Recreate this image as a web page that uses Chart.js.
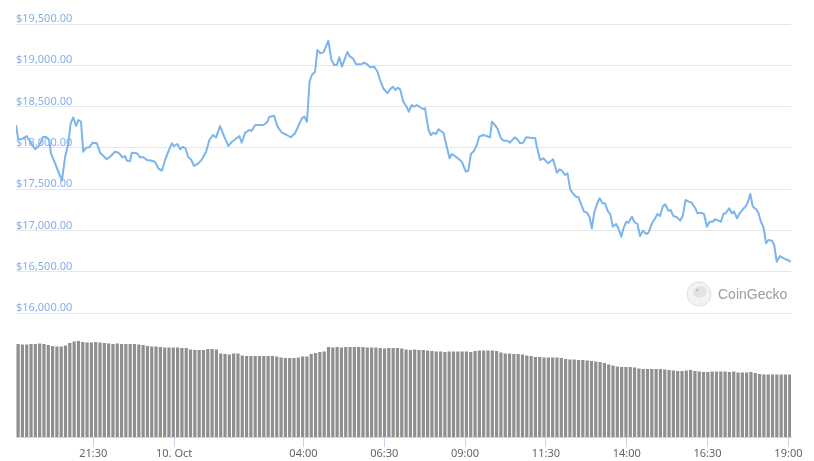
<!DOCTYPE html>
<html>
<head>
<meta charset="utf-8">
<style>
  html, body { margin: 0; padding: 0; background: #fff; }
  canvas { display: block; }
</style>
<script src="https://cdn.jsdelivr.net/npm/chart.js@4.4.1/dist/chart.umd.min.js"></script>
</head>
<body>
<canvas id="chart" width="814" height="461"></canvas>
<script>
// times are hours relative to 10 Oct 00:00
var priceTimes = [
  -4.89, -4.82, -4.71, -4.56, -4.45, -4.30, -4.20, -4.04, -3.94, -3.86,
  -3.81, -3.68, -3.47, -3.37, -3.27, -3.20, -3.12, -3.03, -2.96, -2.88,
  -2.81, -2.72, -2.62, -2.52, -2.39, -2.29, -2.08, -1.98, -1.83, -1.72,
  -1.59, -1.52, -1.46, -1.36, -1.31, -1.15, -1.05, -0.95, -0.84, -0.69,
  -0.59, -0.49, -0.38, -0.28, -0.18, -0.07, 0.00, 0.10, 0.19, 0.27,
  0.35, 0.44, 0.52, 0.62, 0.75, 0.86, 0.99, 1.09, 1.20, 1.30,
  1.42, 1.55, 1.68, 1.79, 1.89, 2.02, 2.09, 2.20, 2.33, 2.40,
  2.51, 2.76, 2.87, 2.95, 3.09, 3.20, 3.33, 3.49, 3.61, 3.74,
  3.95, 4.03, 4.11, 4.19, 4.26, 4.36, 4.43, 4.52, 4.62, 4.77,
  4.86, 4.95, 5.03, 5.11, 5.19, 5.36, 5.44, 5.53, 5.63, 5.81,
  5.88, 5.98, 6.06, 6.19, 6.29, 6.37, 6.47, 6.60, 6.68, 6.77,
  6.84, 6.91, 6.99, 7.09, 7.20, 7.26, 7.35, 7.42, 7.51, 7.61,
  7.69, 7.76, 7.87, 7.94, 8.02, 8.10, 8.18, 8.33, 8.52, 8.59,
  8.74, 8.90, 9.02, 9.10, 9.18, 9.28, 9.36, 9.44, 9.55, 9.67,
  9.77, 9.83, 9.90, 10.00, 10.11, 10.19, 10.31, 10.39, 10.53, 10.62,
  10.70, 10.79, 10.89, 11.01, 11.17, 11.22, 11.32, 11.42, 11.57, 11.72,
  11.84, 11.92, 11.99, 12.09, 12.17, 12.25, 12.35, 12.43, 12.51, 12.61,
  12.68, 12.77, 12.85, 12.92, 12.99, 13.08, 13.16, 13.25, 13.33, 13.42,
  13.49, 13.57, 13.67, 13.74, 13.83, 13.90, 13.98, 14.05, 14.16, 14.23,
  14.33, 14.41, 14.50, 14.60, 14.67, 14.78, 14.88, 14.95, 15.03, 15.12,
  15.19, 15.29, 15.36, 15.44, 15.55, 15.65, 15.73, 15.82, 15.91, 16.01,
  16.12, 16.19, 16.29, 16.39, 16.48, 16.56, 16.66, 16.73, 16.84, 16.91,
  16.99, 17.07, 17.17, 17.25, 17.32, 17.41, 17.49, 17.59, 17.69, 17.76,
  17.82, 17.90, 18.00, 18.07, 18.15, 18.23, 18.31, 18.38, 18.49, 18.56,
  18.64, 18.74, 18.85, 18.97, 19.08
];
var priceValues = [
  18277, 18104, 18108, 18144, 18075, 17983, 18014, 18136, 18128, 18096,
  17935, 17814, 17603, 17893, 18056, 18298, 18370, 18265, 18338, 18317,
  17954, 18002, 18007, 18063, 18056, 17942, 17862, 17893, 17954, 17942,
  17886, 17902, 17845, 17841, 17942, 17935, 17886, 17886, 17853, 17845,
  17833, 17753, 17724, 17853, 17954, 18056, 18023, 18047, 17983, 18014,
  17995, 17886, 17862, 17781, 17813, 17862, 17954, 18096, 18156, 18128,
  18265, 18136, 18023, 18075, 18104, 18144, 18063, 18184, 18217, 18208,
  18277, 18277, 18305, 18378, 18390, 18257, 18184, 18156, 18128, 18177,
  18358, 18378, 18317, 18801, 18883, 18922, 19185, 19145, 19157, 19298,
  19073, 19004, 19004, 19097, 18983, 19161, 19104, 19085, 19012, 19016,
  19031, 19012, 18976, 18983, 18922, 18822, 18722, 18661, 18709, 18741,
  18701, 18729, 18709, 18559, 18492, 18438, 18519, 18499, 18519, 18492,
  18471, 18479, 18217, 18156, 18184, 18168, 18225, 18184, 17874, 17926,
  17886, 17833, 17712, 17724, 17926, 17966, 18035, 18136, 18156, 18144,
  18128, 18317, 18289, 18237, 18116, 18087, 18087, 18063, 18128, 18104,
  18056, 18063, 18128, 18123, 18116, 18014, 17853, 17874, 17813, 17862,
  17700, 17741, 17724, 17672, 17692, 17499, 17442, 17409, 17402, 17296,
  17228, 17215, 17160, 17027, 17208, 17321, 17390, 17329, 17329, 17228,
  17200, 17046, 17079, 17027, 16925, 17027, 17106, 17094, 17167, 17106,
  17079, 16933, 16998, 16957, 16973, 17087, 17148, 17200, 17175, 17296,
  17317, 17240, 17248, 17175, 17160, 17119, 17175, 17369, 17349, 17336,
  17269, 17208, 17215, 17200, 17046, 17106, 17106, 17136, 17119, 17106,
  17200, 17215, 17269, 17208, 17228, 17148, 17208, 17257, 17296, 17361,
  17442, 17288, 17257, 17215, 17106, 17039, 16845, 16885, 16876, 16824,
  16622, 16691, 16663, 16643, 16622
];

// volume bars, one every 8 minutes, in billions
var volumeStart = -4.825;
var volumeStep = 8 / 60;
var volumes = [
  9.30, 9.25, 9.25, 9.30, 9.30, 9.35, 9.30, 9.20, 9.10, 9.05,
  9.05, 9.15, 9.40, 9.55, 9.60, 9.50, 9.45, 9.45, 9.50, 9.45,
  9.40, 9.35, 9.30, 9.35, 9.30, 9.30, 9.30, 9.30, 9.25, 9.20,
  9.10, 9.05, 9.05, 9.00, 8.95, 8.95, 8.95, 8.95, 8.90, 8.90,
  8.75, 8.70, 8.70, 8.70, 8.80, 8.80, 8.75, 8.35, 8.30, 8.25,
  8.35, 8.35, 8.15, 8.10, 8.10, 8.10, 8.10, 8.10, 8.10, 8.10,
  8.05, 7.95, 7.90, 7.90, 7.90, 7.95, 8.05, 8.05, 8.30, 8.40,
  8.50, 8.55, 9.00, 8.95, 9.00, 8.95, 9.00, 9.00, 9.00, 9.00,
  9.00, 8.95, 8.95, 8.95, 8.90, 8.85, 8.90, 8.90, 8.90, 8.85,
  8.75, 8.70, 8.75, 8.70, 8.70, 8.65, 8.60, 8.55, 8.55, 8.50,
  8.55, 8.55, 8.55, 8.55, 8.55, 8.50, 8.60, 8.65, 8.65, 8.65,
  8.65, 8.60, 8.45, 8.35, 8.35, 8.30, 8.30, 8.25, 8.15, 8.10,
  8.00, 8.00, 7.95, 7.95, 7.95, 7.95, 7.90, 7.80, 7.75, 7.75,
  7.70, 7.70, 7.65, 7.60, 7.55, 7.50, 7.40, 7.25, 7.15, 7.05,
  7.00, 7.00, 7.00, 6.95, 6.85, 6.80, 6.80, 6.80, 6.80, 6.80,
  6.75, 6.70, 6.65, 6.60, 6.60, 6.65, 6.70, 6.60, 6.55, 6.50,
  6.50, 6.55, 6.55, 6.55, 6.55, 6.50, 6.55, 6.45, 6.45, 6.45,
  6.50, 6.40, 6.30, 6.25, 6.25, 6.25, 6.25, 6.25, 6.25, 6.25
];

var tickHours = [-2.5, 0, 4, 6.5, 9, 11.5, 14, 16.5, 19];
var tickLabels = ["21:30", "10. Oct", "04:00", "06:30", "09:00", "11:30", "14:00", "16:30", "19:00"];

var font = "'Noto Sans', 'Liberation Sans', sans-serif";

var watermark = {
  id: "watermark",
  beforeDatasetsDraw: function (chart) {
    var c = chart.ctx;
    c.save();
    c.beginPath();
    c.arc(699, 294, 12, 0, Math.PI * 2);
    c.fillStyle = "#f3f3f3";
    c.fill();
    c.strokeStyle = "#dedede";
    c.lineWidth = 1;
    c.stroke();
    // gecko head
    c.beginPath();
    c.ellipse(700, 292, 7, 5.5, -0.3, 0, Math.PI * 2);
    c.fillStyle = "#e2e2e2";
    c.fill();
    c.beginPath();
    c.arc(697, 290, 1.3, 0, Math.PI * 2);
    c.fillStyle = "#bdbdbd";
    c.fill();
    c.fillStyle = "#9b9b9b";
    c.font = "14px 'Liberation Sans', Arial, sans-serif";
    c.textBaseline = "middle";
    c.textAlign = "left";
    c.fillText("CoinGecko", 718, 295);
    c.restore();
  }
};

var linePoints = priceTimes.map(function (t, i) { return { x: t, y: priceValues[i] }; });
var barPoints = volumes.map(function (v, i) { return { x: volumeStart + i * volumeStep, y: v }; });

new Chart(document.getElementById("chart"), {
  type: "bar",
  data: {
    datasets: [
      {
        type: "line",
        label: "Price",
        data: linePoints,
        yAxisID: "y",
        borderColor: "#7cb5ec",
        borderWidth: 2,
        pointRadius: 0,
        tension: 0,
        borderJoinStyle: "round"
      },
      {
        type: "bar",
        label: "Volume",
        data: barPoints,
        yAxisID: "y2",
        backgroundColor: "#8f8f8f",
        barPercentage: 0.75,
        categoryPercentage: 1
      }
    ]
  },
  options: {
    responsive: false,
    animation: false,
    devicePixelRatio: 1,
    layout: { padding: { top: 24, left: 16, right: 23, bottom: 0 } },
    plugins: { legend: { display: false }, tooltip: { enabled: false } },
    scales: {
      x: {
        type: "linear",
        offset: false,
        min: -4.89,
        max: 19.08,
        afterBuildTicks: function (scale) {
          scale.ticks = tickHours.map(function (v) { return { value: v }; });
        },
        afterFit: function (scale) {
          scale.height = 24;
          scale.paddingLeft = 0;
          scale.paddingRight = 0;
        },
        ticks: {
          autoSkip: false,
          maxRotation: 0,
          padding: 0,
          color: "#666666",
          font: { family: font, size: 11 },
          callback: function (v) { return tickLabels[tickHours.indexOf(v)]; }
        },
        grid: {
          offset: false,
          drawOnChartArea: false,
          drawTicks: true,
          tickLength: 10,
          tickColor: "#ccd6eb"
        },
        border: { display: true, color: "#ccd6eb", width: 1 }
      },
      y: {
        min: 14500,
        max: 19500,
        afterFit: function (scale) {
          scale.paddingTop = 0;
          scale.paddingBottom = 0;
        },
        ticks: {
          stepSize: 500,
          mirror: true,
          padding: 0,
          labelOffset: -5,
          color: "#86aee9",
          font: { family: font, size: 11 },
          callback: function (v) {
            return v >= 16000 ? "$" + v.toLocaleString("en-US") + ".00" : "";
          }
        },
        grid: {
          drawTicks: false,
          color: function (ctx) {
            return ctx.tick && ctx.tick.value >= 16000 ? "#e6e6e6" : "rgba(0,0,0,0)";
          }
        },
        border: { display: false }
      },
      y2: {
        display: false,
        min: 0,
        max: 41.3
      }
    }
  },
  plugins: [watermark]
});
</script>
</body>
</html>
